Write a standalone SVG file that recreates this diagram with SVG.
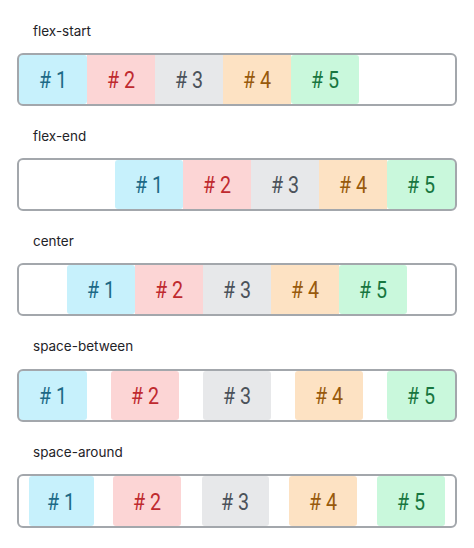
<svg xmlns="http://www.w3.org/2000/svg" width="474" height="548" viewBox="0 0 474 548">
<style>
.bg{fill:#ffffff}
.lbl{font-family:"Inter","Noto Sans",sans-serif;font-size:13.5px;fill:#1f2328}
.box{fill:none;stroke:#a3a7ac;stroke-width:2}
.t{font-family:"Roboto","Liberation Sans",sans-serif;font-size:24px;text-anchor:middle}
.c1{fill:#c7f1fc}.c2{fill:#fcd5d5}.c3{fill:#e7e8ea}.c4{fill:#fde2c3}.c5{fill:#c9f8dc}
.k1{fill:#1d6a86}.k2{fill:#bf2a2f}.k3{fill:#4b525a}.k4{fill:#985a0c}.k5{fill:#18763f}
</style>
<rect class="bg" x="0" y="0" width="474" height="548"/>

<g id="flex-start">
<text class="lbl" x="33" y="36">flex-start</text>
<rect class="c1" x="19" y="55" width="68" height="49" rx="3"/>
<rect class="c2" x="87" y="55" width="68" height="49"/>
<rect class="c3" x="155" y="55" width="68" height="49"/>
<rect class="c4" x="223" y="55" width="68" height="49"/>
<rect class="c5" x="291" y="55" width="68" height="49" rx="3"/>
<text class="t k1" x="53" y="88" transform="translate(53 0) scale(0.82 1) translate(-53 0)"># 1</text>
<text class="t k2" x="121" y="88" transform="translate(121 0) scale(0.82 1) translate(-121 0)"># 2</text>
<text class="t k3" x="189" y="88" transform="translate(189 0) scale(0.82 1) translate(-189 0)"># 3</text>
<text class="t k4" x="257" y="88" transform="translate(257 0) scale(0.82 1) translate(-257 0)"># 4</text>
<text class="t k5" x="325" y="88" transform="translate(325 0) scale(0.82 1) translate(-325 0)"># 5</text>
<rect class="box" x="18" y="54" width="438" height="51" rx="5"/>
</g>

<g id="flex-end">
<text class="lbl" x="33" y="141">flex-end</text>
<rect class="c1" x="115" y="160" width="68" height="49" rx="3"/>
<rect class="c2" x="183" y="160" width="68" height="49"/>
<rect class="c3" x="251" y="160" width="68" height="49"/>
<rect class="c4" x="319" y="160" width="68" height="49"/>
<rect class="c5" x="387" y="160" width="68" height="49" rx="3"/>
<text class="t k1" x="149" y="193" transform="translate(149 0) scale(0.82 1) translate(-149 0)"># 1</text>
<text class="t k2" x="217" y="193" transform="translate(217 0) scale(0.82 1) translate(-217 0)"># 2</text>
<text class="t k3" x="285" y="193" transform="translate(285 0) scale(0.82 1) translate(-285 0)"># 3</text>
<text class="t k4" x="353" y="193" transform="translate(353 0) scale(0.82 1) translate(-353 0)"># 4</text>
<text class="t k5" x="421" y="193" transform="translate(421 0) scale(0.82 1) translate(-421 0)"># 5</text>
<rect class="box" x="18" y="159" width="438" height="51" rx="5"/>
</g>

<g id="center">
<text class="lbl" x="33" y="246">center</text>
<rect class="c1" x="67" y="265" width="68" height="49" rx="3"/>
<rect class="c2" x="135" y="265" width="68" height="49"/>
<rect class="c3" x="203" y="265" width="68" height="49"/>
<rect class="c4" x="271" y="265" width="68" height="49"/>
<rect class="c5" x="339" y="265" width="68" height="49" rx="3"/>
<text class="t k1" x="101" y="298" transform="translate(101 0) scale(0.82 1) translate(-101 0)"># 1</text>
<text class="t k2" x="169" y="298" transform="translate(169 0) scale(0.82 1) translate(-169 0)"># 2</text>
<text class="t k3" x="237" y="298" transform="translate(237 0) scale(0.82 1) translate(-237 0)"># 3</text>
<text class="t k4" x="305" y="298" transform="translate(305 0) scale(0.82 1) translate(-305 0)"># 4</text>
<text class="t k5" x="373" y="298" transform="translate(373 0) scale(0.82 1) translate(-373 0)"># 5</text>
<rect class="box" x="18" y="264" width="438" height="51" rx="5"/>
</g>

<g id="space-between">
<text class="lbl" x="33" y="351">space-between</text>
<rect class="c1" x="19" y="371" width="68" height="49" rx="3"/>
<rect class="c2" x="111" y="371" width="68" height="49" rx="3"/>
<rect class="c3" x="203" y="371" width="68" height="49" rx="3"/>
<rect class="c4" x="295" y="371" width="68" height="49" rx="3"/>
<rect class="c5" x="387" y="371" width="68" height="49" rx="3"/>
<text class="t k1" x="53" y="404" transform="translate(53 0) scale(0.82 1) translate(-53 0)"># 1</text>
<text class="t k2" x="145" y="404" transform="translate(145 0) scale(0.82 1) translate(-145 0)"># 2</text>
<text class="t k3" x="237" y="404" transform="translate(237 0) scale(0.82 1) translate(-237 0)"># 3</text>
<text class="t k4" x="329" y="404" transform="translate(329 0) scale(0.82 1) translate(-329 0)"># 4</text>
<text class="t k5" x="421" y="404" transform="translate(421 0) scale(0.82 1) translate(-421 0)"># 5</text>
<rect class="box" x="18" y="370" width="438" height="51" rx="5"/>
</g>

<g id="space-around">
<text class="lbl" x="33" y="457">space-around</text>
<rect class="c1" x="29" y="476" width="65" height="50" rx="3"/>
<rect class="c2" x="113" y="476" width="68" height="50" rx="3"/>
<rect class="c3" x="202" y="476" width="67" height="50" rx="3"/>
<rect class="c4" x="289" y="476" width="68" height="50" rx="3"/>
<rect class="c5" x="377" y="476" width="68" height="50" rx="3"/>
<text class="t k1" x="61" y="510" transform="translate(61 0) scale(0.82 1) translate(-61 0)"># 1</text>
<text class="t k2" x="147" y="510" transform="translate(147 0) scale(0.82 1) translate(-147 0)"># 2</text>
<text class="t k3" x="235" y="510" transform="translate(235 0) scale(0.82 1) translate(-235 0)"># 3</text>
<text class="t k4" x="323" y="510" transform="translate(323 0) scale(0.82 1) translate(-323 0)"># 4</text>
<text class="t k5" x="411" y="510" transform="translate(411 0) scale(0.82 1) translate(-411 0)"># 5</text>
<rect class="box" x="18" y="475" width="438" height="52" rx="5"/>
</g>
</svg>
